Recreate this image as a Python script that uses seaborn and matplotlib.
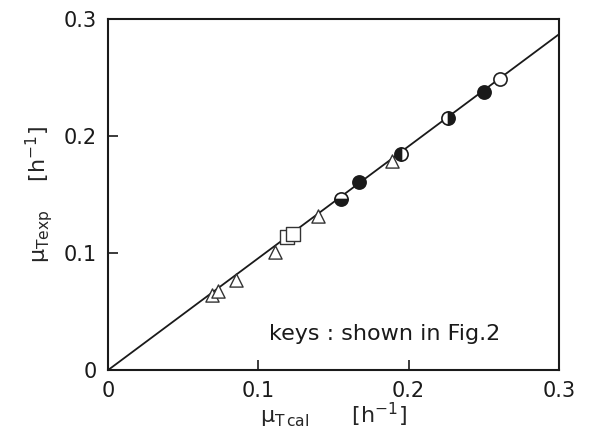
import matplotlib
matplotlib.use("Agg")
import matplotlib.pyplot as plt
import seaborn as sns

# values
line_x = [0.0, 0.3]
line_y = [0.0, 0.287]

tri_x = [0.069, 0.073, 0.085, 0.111, 0.140, 0.189]
tri_y = [0.064, 0.068, 0.077, 0.101, 0.132, 0.179]

sq_x = [0.119, 0.123]
sq_y = [0.114, 0.116]

open_x = [0.261]
open_y = [0.249]

full_x = [0.167, 0.250]
full_y = [0.161, 0.238]

# half filled circles and the side that is dark
half_x = [0.155, 0.195, 0.226]
half_y = [0.146, 0.185, 0.215]
half_side = ["bottom", "left", "right"]

sns.set_style("ticks")
plt.rcParams['font.family'] = ['DejaVu Sans']
plt.rcParams['mathtext.fontset'] = 'dejavusans'

fig = plt.figure(figsize=(6.05, 4.37), dpi=100)
ax = fig.add_axes([0.1785, 0.153, 0.7455, 0.8035])

sns.lineplot(x=line_x, y=line_y, color='#1a1a1a', linewidth=1.3, ax=ax)

sns.scatterplot(x=tri_x, y=tri_y, marker='^', s=90, facecolor='white',
                edgecolor='#333333', linewidth=1.0, ax=ax, zorder=3)
sns.scatterplot(x=sq_x, y=sq_y, marker='s', s=90, facecolor='white',
                edgecolor='#333333', linewidth=1.0, ax=ax, zorder=3)
sns.scatterplot(x=open_x, y=open_y, marker='o', s=90, facecolor='white',
                edgecolor='#222222', linewidth=1.2, ax=ax, zorder=3)
sns.scatterplot(x=full_x, y=full_y, marker='o', s=90, facecolor='#1a1a1a',
                edgecolor='#1a1a1a', linewidth=1.2, ax=ax, zorder=3)

for hx, hy, side in zip(half_x, half_y, half_side):
    ax.plot([hx], [hy], marker='o', markersize=9.5, fillstyle=side,
            markerfacecolor='#1a1a1a', markerfacecoloralt='white',
            markeredgecolor='#1a1a1a', markeredgewidth=1.2,
            linestyle='none', zorder=4)

ax.set_xlim(0, 0.3)
ax.set_ylim(0, 0.3)
ax.set_xticks([0, 0.1, 0.2, 0.3])
ax.set_yticks([0, 0.1, 0.2, 0.3])
ax.set_xticklabels(['0', '0.1', '0.2', '0.3'])
ax.set_yticklabels(['0', '0.1', '0.2', '0.3'])
ax.tick_params(direction='in', length=7, width=1.2, labelsize=15, pad=8,
               colors='#1a1a1a')
for sp in ax.spines.values():
    sp.set_linewidth(1.5)
    sp.set_color('#1a1a1a')

ax.set_xlabel('μ$_{\\mathrm{T\\,cal}}$      [h$^{-1}$]', fontsize=16, labelpad=0)
ax.set_ylabel('μ$_{\\mathrm{Texp}}$    [h$^{-1}$]', fontsize=16, labelpad=6)

ax.text(0.107, 0.026, 'keys : shown in Fig.2', fontsize=16,
        color='#1a1a1a', va='baseline')

fig.savefig('out.png', dpi=100, facecolor='white')
